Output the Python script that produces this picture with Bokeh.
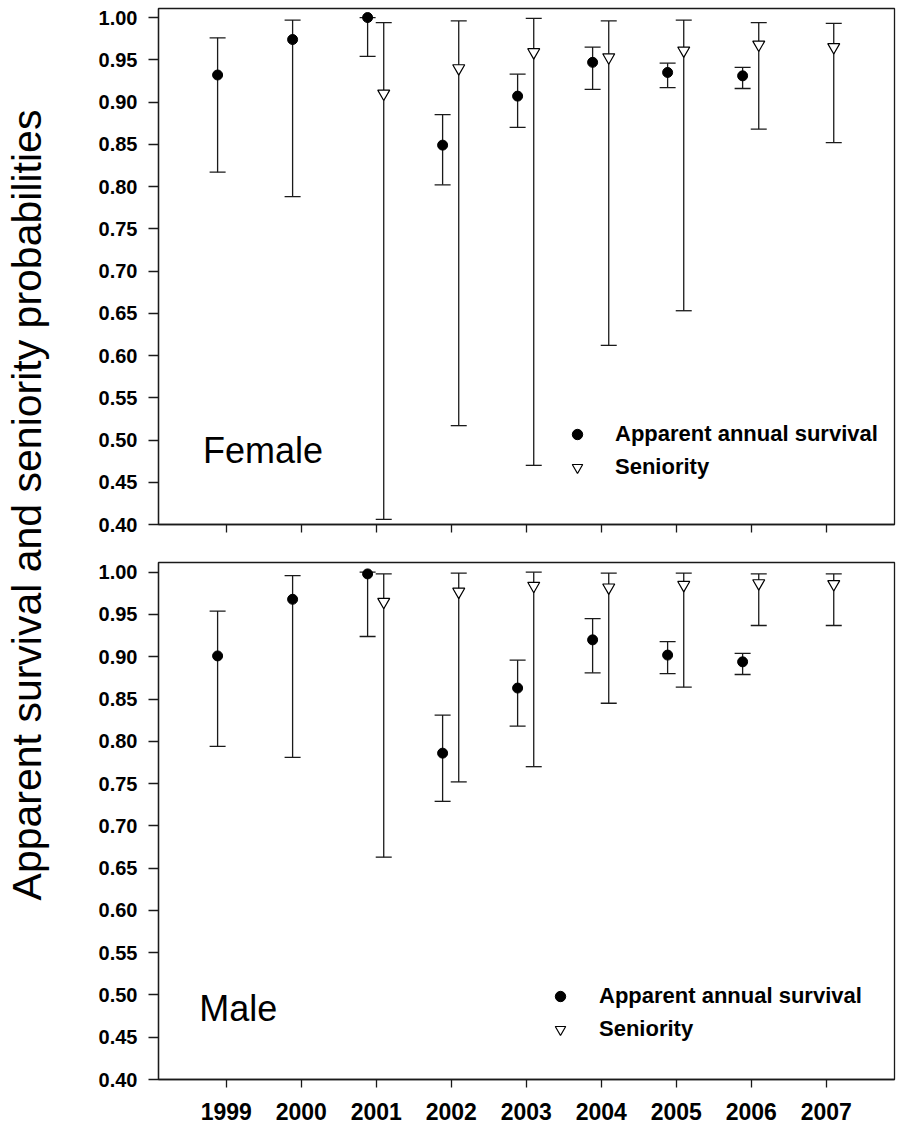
from math import pi
from bokeh.plotting import figure
from bokeh.models import (ColumnDataSource, Whisker, TeeHead, FixedTicker,
                          NumeralTickFormatter, Range1d, Label, Legend, LegendItem)
from bokeh.layouts import row, column
from bokeh.embed import file_html
from bokeh.resources import INLINE

# ---------------- data ----------------
years = [1999, 2000, 2001, 2002, 2003, 2004, 2005, 2006, 2007]
surv_years = [1999, 2000, 2001, 2002, 2003, 2004, 2005, 2006]
sen_years = [2001, 2002, 2003, 2004, 2005, 2006, 2007]
y_ticks = [0.40, 0.45, 0.50, 0.55, 0.60, 0.65, 0.70, 0.75, 0.80, 0.85, 0.90, 0.95, 1.00]

# Female
f_surv = [0.932, 0.974, 1.000, 0.849, 0.907, 0.947, 0.935, 0.931]
f_surv_lo = [0.817, 0.788, 0.954, 0.802, 0.870, 0.915, 0.917, 0.916]
f_surv_hi = [0.976, 0.997, 1.000, 0.885, 0.933, 0.965, 0.946, 0.941]
f_sen = [0.910, 0.940, 0.959, 0.953, 0.961, 0.968, 0.965]
f_sen_lo = [0.406, 0.517, 0.470, 0.612, 0.653, 0.868, 0.852]
f_sen_hi = [0.994, 0.996, 0.999, 0.996, 0.997, 0.994, 0.993]

# Male
m_surv = [0.901, 0.968, 0.998, 0.786, 0.863, 0.920, 0.902, 0.894]
m_surv_lo = [0.794, 0.781, 0.924, 0.729, 0.818, 0.881, 0.880, 0.879]
m_surv_hi = [0.954, 0.996, 1.000, 0.831, 0.896, 0.945, 0.918, 0.904]
m_sen = [0.965, 0.977, 0.984, 0.982, 0.985, 0.987, 0.986]
m_sen_lo = [0.663, 0.752, 0.770, 0.845, 0.864, 0.937, 0.937]
m_sen_hi = [0.998, 0.999, 1.000, 0.999, 0.999, 0.998, 0.998]

FONT = "Liberation Sans"
INK = "#1a1a1a"
SURV_OFF = -0.115
SEN_OFF = 0.10


def panel(surv, surv_lo, surv_hi, sen, sen_lo, sen_hi, height, y_end, min_top,
          min_bottom, show_x_labels, sex_label, sex_xy, legend_loc, legend_standoff):
    p = figure(width=826, height=height, output_backend="svg", toolbar_location=None,
               x_range=Range1d(1998.097, 2007.91), y_range=Range1d(0.40, y_end),
               min_border_left=88, min_border_right=2, min_border_top=min_top,
               min_border_bottom=min_bottom, background_fill_color="white",
               border_fill_color="white")
    p.grid.visible = False
    p.outline_line_color = INK
    p.outline_line_width = 1.3

    s1 = ColumnDataSource(dict(x=[y + SURV_OFF for y in surv_years], y=surv,
                               lo=surv_lo, hi=surv_hi))
    s2 = ColumnDataSource(dict(x=[y + SEN_OFF for y in sen_years], y=sen,
                               lo=sen_lo, hi=sen_hi))
    for src in (s1, s2):
        w = Whisker(source=src, base="x", upper="hi", lower="lo", dimension="height",
                    line_color=INK, line_width=1.3, level="underlay",
                    upper_head=TeeHead(size=16, line_color=INK, line_width=1.3),
                    lower_head=TeeHead(size=16, line_color=INK, line_width=1.3))
        p.add_layout(w)

    r1 = p.scatter("x", "y", source=s1, marker="circle", size=10,
                   fill_color="black", line_color="black")
    r2 = p.scatter("x", "y", source=s2, marker="inverted_triangle", size=12,
                   fill_color="white", line_color="black", line_width=1.2)

    # axes
    p.yaxis.ticker = FixedTicker(ticks=y_ticks)
    p.yaxis.formatter = NumeralTickFormatter(format="0.00")
    p.xaxis.ticker = FixedTicker(ticks=years)
    for ax in (p.xaxis, p.yaxis):
        ax.axis_line_color = INK
        ax.axis_line_width = 1.3
        ax.major_tick_line_color = INK
        ax.major_tick_line_width = 1.3
        ax.major_tick_in = 0
        ax.minor_tick_line_color = None
        ax.major_label_text_font = FONT
        ax.major_label_text_font_style = "bold"
        ax.major_label_text_color = "black"
    p.yaxis.major_tick_out = 10
    p.yaxis.major_label_standoff = 11
    p.yaxis.major_label_text_font_size = "20px"
    p.xaxis.major_tick_out = 8
    if show_x_labels:
        p.xaxis.major_label_text_font_size = "23px"
        p.xaxis.major_label_standoff = 15
        p.xaxis.major_label_overrides = {y: str(y) for y in years}
    else:
        p.xaxis.major_label_standoff = 0
        p.xaxis.major_label_text_font_size = "1px"
        p.xaxis.major_label_overrides = {y: "" for y in years}

    p.add_layout(Label(x=sex_xy[0], y=sex_xy[1], text=sex_label,
                       text_font=FONT, text_font_size="36px", text_color="black",
                       text_align="left", text_baseline="alphabetic"))

    leg = Legend(items=[LegendItem(label="Apparent annual survival", renderers=[r1]),
                        LegendItem(label="Seniority", renderers=[r2])],
                 location=legend_loc, orientation="vertical",
                 glyph_width=26, glyph_height=26,
                 label_standoff=legend_standoff, padding=0, margin=0, spacing=7,
                 border_line_color=None, background_fill_alpha=0,
                 label_text_font=FONT, label_text_font_style="bold",
                 label_text_font_size="22px", label_text_color="black")
    p.add_layout(leg)
    return p


p1 = panel(f_surv, f_surv_lo, f_surv_hi, f_sen, f_sen_lo, f_sen_hi,
           height=561, y_end=1.0107, min_top=8, min_bottom=37, show_x_labels=False,
           sex_label="Female", sex_xy=(1998.69, 0.488), legend_loc=(406, 44),
           legend_standoff=25)
p2 = panel(m_surv, m_surv_lo, m_surv_hi, m_sen, m_sen_lo, m_sen_hi,
           height=568, y_end=1.0115, min_top=1, min_bottom=50, show_x_labels=True,
           sex_label="Male", sex_xy=(1998.64, 0.484), legend_loc=(389, 37),
           legend_standoff=26)

# left title strip
TH = 561 + 568
t = figure(width=70, height=TH, output_backend="svg", toolbar_location=None,
           x_range=Range1d(0, 70), y_range=Range1d(0, TH),
           x_axis_location=None, y_axis_location=None, min_border=0,
           background_fill_color="white", border_fill_color="white")
t.grid.visible = False
t.outline_line_color = None
t.add_layout(Label(x=26, y=TH - 504.5, text="Apparent survival and seniority probabilities",
                   angle=pi / 2, text_align="center", text_baseline="alphabetic",
                   text_font=FONT, text_font_size="41px", text_color="black"))

layout = row(t, column(p1, p2))
open("out.html", "w").write(file_html(layout, INLINE))
